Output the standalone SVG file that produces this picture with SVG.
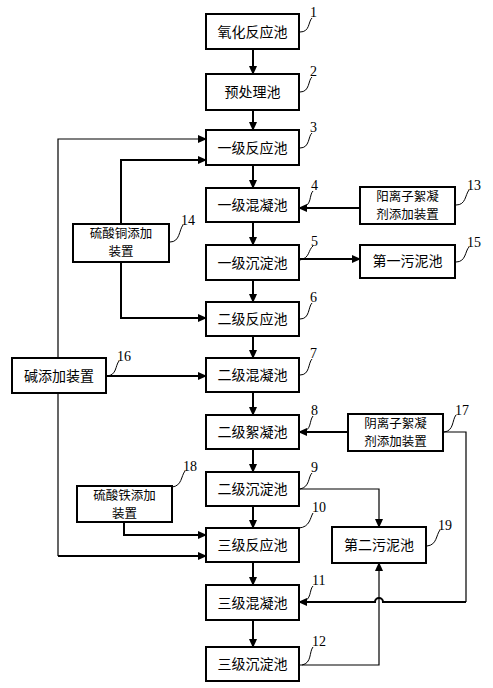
<svg xmlns="http://www.w3.org/2000/svg" width="493" height="688" viewBox="0 0 493 688">
<style>
.box{fill:#fff;stroke:#000;stroke-width:2}
.t{font-family:"Noto Sans CJK SC","Noto Sans CJK JP",sans-serif;font-size:14px;fill:#000;text-anchor:middle}
.t2{font-family:"Noto Sans CJK SC","Noto Sans CJK JP",sans-serif;font-size:12.5px;fill:#000;text-anchor:middle}
.n{font-family:"Liberation Serif",serif;font-size:14px;fill:#000}
.c{fill:none;stroke:#000;stroke-width:2}
.thin{fill:none;stroke:#000;stroke-width:1.2}
.ld{fill:none;stroke:#000;stroke-width:1}
</style>
<defs>
<marker id="a" markerUnits="userSpaceOnUse" markerWidth="9" markerHeight="8" refX="8" refY="4" orient="auto">
<path d="M0,0 L9,4 L0,8 z" fill="#000"/>
</marker>
</defs>
<rect width="493" height="688" fill="#fff"/>
<g id="connectors">
<path class="c" d="M253,49 V74" marker-end="url(#a)"/>
<path class="c" d="M253,110 V130" marker-end="url(#a)"/>
<path class="c" d="M253,165 V188" marker-end="url(#a)"/>
<path class="c" d="M253,222 V245" marker-end="url(#a)"/>
<path class="c" d="M253,280 V302" marker-end="url(#a)"/>
<path class="c" d="M253,336 V358" marker-end="url(#a)"/>
<path class="c" d="M253,392 V415" marker-end="url(#a)"/>
<path class="c" d="M253,449 V472" marker-end="url(#a)"/>
<path class="c" d="M253,506 V528" marker-end="url(#a)"/>
<path class="c" d="M253,562 V585" marker-end="url(#a)"/>
<path class="c" d="M253,620 V647" marker-end="url(#a)"/>
<path class="thin" d="M58,556 V139 H206" marker-end="url(#a)"/>
<path class="c" d="M58,556 H206" marker-end="url(#a)"/>
<path class="c" d="M121,224 V160 H206" marker-end="url(#a)"/>
<path class="c" d="M121,262 V318 H206" marker-end="url(#a)"/>
<path class="c" d="M106,376 H206" marker-end="url(#a)"/>
<path class="c" d="M360,208 H299" marker-end="url(#a)"/>
<path class="c" d="M299,259 H360" marker-end="url(#a)"/>
<path class="c" d="M348,432 H299" marker-end="url(#a)"/>
<path class="thin" d="M443,432 H466 V602"/>
<path class="c" d="M466,602 H383 A4,4 0 0 0 375,602 H299" marker-end="url(#a)"/>
<path class="thin" d="M299,489 H379 V527" marker-end="url(#a)"/>
<path class="thin" d="M299,665 H379 V563" marker-end="url(#a)"/>
<path class="c" d="M124,521 V535 H206" marker-end="url(#a)"/>
</g>
<g id="n1"><rect class="box" x="206" y="14" width="93" height="35"/><text class="t" x="252.5" y="37">氧化反应池</text></g>
<g id="n2"><rect class="box" x="206" y="74" width="93" height="36"/><text class="t" x="252.5" y="97">预处理池</text></g>
<g id="n3"><rect class="box" x="206" y="130" width="93" height="35"/><text class="t" x="252.5" y="153">一级反应池</text></g>
<g id="n4"><rect class="box" x="206" y="188" width="93" height="34"/><text class="t" x="252.5" y="210">一级混凝池</text></g>
<g id="n5"><rect class="box" x="206" y="245" width="93" height="35"/><text class="t" x="252.5" y="268">一级沉淀池</text></g>
<g id="n6"><rect class="box" x="206" y="302" width="93" height="34"/><text class="t" x="252.5" y="324">二级反应池</text></g>
<g id="n7"><rect class="box" x="206" y="358" width="93" height="34"/><text class="t" x="252.5" y="380">二级混凝池</text></g>
<g id="n8"><rect class="box" x="206" y="415" width="93" height="34"/><text class="t" x="252.5" y="437">二级絮凝池</text></g>
<g id="n9"><rect class="box" x="206" y="472" width="93" height="34"/><text class="t" x="252.5" y="494">二级沉淀池</text></g>
<g id="n10"><rect class="box" x="206" y="528" width="93" height="34"/><text class="t" x="252.5" y="550">三级反应池</text></g>
<g id="n11"><rect class="box" x="206" y="585" width="93" height="35"/><text class="t" x="252.5" y="608">三级混凝池</text></g>
<g id="n12"><rect class="box" x="206" y="647" width="93" height="34"/><text class="t" x="252.5" y="669">三级沉淀池</text></g>
<g id="n13"><rect class="box" x="360" y="187" width="95" height="37"/><text class="t2" x="407.5" y="201">阳离子絮凝</text><text class="t2" x="407.5" y="219">剂添加装置</text></g>
<g id="n14"><rect class="box" x="73" y="224" width="96" height="38"/><text class="t2" x="121" y="238">硫酸铜添加</text><text class="t2" x="121" y="256">装置</text></g>
<g id="n15"><rect class="box" x="360" y="245" width="95" height="33"/><text class="t" x="407.5" y="266">第一污泥池</text></g>
<g id="n16"><rect class="box" x="12" y="358" width="94" height="35"/><text class="t" x="59" y="381">碱添加装置</text></g>
<g id="n17"><rect class="box" x="348" y="414" width="95" height="37"/><text class="t2" x="395.5" y="428">阴离子絮凝</text><text class="t2" x="395.5" y="446">剂添加装置</text></g>
<g id="n18"><rect class="box" x="77" y="486" width="95" height="36"/><text class="t2" x="124.5" y="500">硫酸铁添加</text><text class="t2" x="124.5" y="518">装置</text></g>
<g id="n19"><rect class="box" x="332" y="527" width="94" height="36"/><text class="t" x="379" y="550">第二污泥池</text></g>
<g id="labels">
<path class="ld" d="M300,32 C310,32 308,22 312,18"/><text class="n" x="310" y="17">1</text>
<path class="ld" d="M300,92 C310,92 308,80 312,77"/><text class="n" x="310" y="76">2</text>
<path class="ld" d="M300,148 C310,148 308,136 312,133"/><text class="n" x="310" y="132">3</text>
<path class="ld" d="M303,207 C312,205 309,195 313,191"/><text class="n" x="311" y="190">4</text>
<path class="ld" d="M300,260 C310,258 308,250 313,246"/><text class="n" x="311" y="246">5</text>
<path class="ld" d="M300,319 C310,319 308,307 312,303"/><text class="n" x="310" y="302">6</text>
<path class="ld" d="M300,375 C310,375 308,363 312,359"/><text class="n" x="310" y="358">7</text>
<path class="ld" d="M302,432 C312,430 309,421 313,416"/><text class="n" x="311" y="415">8</text>
<path class="ld" d="M300,489 C310,487 308,477 312,473"/><text class="n" x="311" y="472">9</text>
<path class="ld" d="M299,528 C310,527 310,518 313,513"/><text class="n" x="312" y="512">10</text>
<path class="ld" d="M302,602 C312,600 309,590 313,586"/><text class="n" x="312" y="585">11</text>
<path class="ld" d="M302,665 C312,663 309,652 313,647"/><text class="n" x="312" y="646">12</text>
<path class="ld" d="M456,205 C466,205 465,195 469,190"/><text class="n" x="467" y="190">13</text>
<path class="ld" d="M170,242 C180,242 179,230 183,225"/><text class="n" x="181" y="225">14</text>
<path class="ld" d="M456,262 C466,262 465,251 469,247"/><text class="n" x="467" y="247">15</text>
<path class="ld" d="M107,376 C117,375 115,366 119,361"/><text class="n" x="117" y="361">16</text>
<path class="ld" d="M444,432 C454,431 452,420 456,415"/><text class="n" x="455" y="415">17</text>
<path class="ld" d="M172,487 C182,486 181,476 185,471"/><text class="n" x="183" y="471">18</text>
<path class="ld" d="M427,546 C437,545 436,535 440,530"/><text class="n" x="438" y="530">19</text>
</g>
</svg>
